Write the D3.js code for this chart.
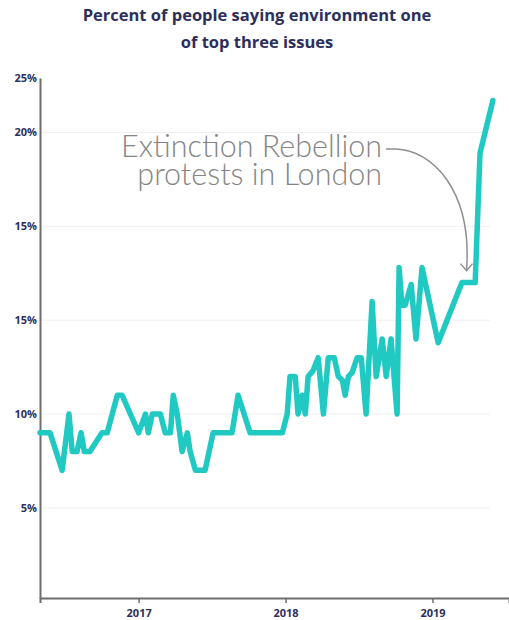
<!DOCTYPE html>
<html>
<head>
<meta charset="utf-8">
<script src="https://cdn.jsdelivr.net/npm/d3@7"></script>
<style>
	body { margin: 0; background: #fff; }
	svg { display: block; }
</style>
</head>
<body>
<div id="chart"></div>
<script>
const dates = [
	'2016-05-01', '2016-05-26', '2016-06-25', '2016-07-12', '2016-07-20', '2016-08-01',
	'2016-08-11', '2016-08-19', '2016-09-02', '2016-10-02', '2016-10-15', '2016-11-09',
	'2016-11-21', '2017-01-01', '2017-01-18', '2017-01-25', '2017-02-04', '2017-02-24',
	'2017-03-08', '2017-03-21', '2017-03-28', '2017-04-07', '2017-04-19', '2017-05-02',
	'2017-05-09', '2017-05-22', '2017-06-15', '2017-07-05', '2017-08-21', '2017-09-05',
	'2017-10-05', '2017-12-24', '2018-01-05', '2018-01-12', '2018-01-25', '2018-02-01',
	'2018-02-11', '2018-02-19', '2018-02-26', '2018-03-10', '2018-03-23', '2018-04-05',
	'2018-04-17', '2018-05-02', '2018-05-12', '2018-05-22', '2018-05-29', '2018-06-06',
	'2018-06-15', '2018-06-28', '2018-07-08', '2018-07-20', '2018-08-04', '2018-08-14',
	'2018-08-29', '2018-09-08', '2018-09-20', '2018-10-05', '2018-10-10', '2018-10-17',
	'2018-10-25', '2018-11-09', '2018-11-21', '2018-12-06', '2019-01-15', '2019-03-15',
	'2019-04-17', '2019-04-29', '2019-05-31'
];

const values = [
	9, 9, 7, 10, 8, 8,
	9, 8, 8, 9, 9, 11,
	11, 9, 10, 9, 10, 10,
	9, 9, 11, 10, 8, 9,
	8, 7, 7, 9, 9, 11,
	9, 9, 10, 12, 12, 10,
	11, 10, 12, 12.3, 13, 10,
	13, 13, 12, 11.8, 11, 12,
	12.2, 13, 13, 10, 16, 12,
	14, 12, 14, 10, 17.8, 15.8,
	15.8, 16.9, 14, 17.8, 13.8, 17,
	17, 23.9, 26.7
];

// tick labels as printed on the original (note the repeated 15%)
const yTickValues = [5, 10, 15, 20, 25, 27.9];
const yTickLabels = ['5%', '10%', '15%', '15%', '20%', '25%'];
const xTickYears = [2017, 2018, 2019];

const titleLines = ['Percent of people saying environment one', 'of top three issues'];
const noteLines = ['Extinction Rebellion', 'protests in London'];

const w = 509;
const h = 620;
const navy = '#2c2f5c';

const parse = d3.timeParse('%Y-%m-%d');
const data = dates.map((d, i) => ({ date: parse(d), value: values[i] }));

const svg = d3.select('#chart').append('svg')
	.attr('width', w)
	.attr('height', h);

const x = d3.scaleTime()
	.domain([parse('2016-05-01'), parse('2019-07-10')])
	.range([40, 509]);

const y = d3.scaleLinear()
	.domain([0.2, 27.9])
	.range([598, 78]);

// title
svg.append('text')
	.attr('x', 257)
	.attr('y', 21)
	.attr('text-anchor', 'middle')
	.style('font-family', 'Open Sans, sans-serif')
	.style('font-weight', 700)
	.style('font-size', '16.5px')
	.style('fill', navy)
	.selectAll('tspan')
	.data(titleLines)
	.join('tspan')
	.attr('x', 257)
	.attr('dy', (d, i) => i ? 27 : 0)
	.text(d => d);

// faint gridlines
svg.append('g')
	.selectAll('line')
	.data(yTickValues.slice(0, -1))
	.join('line')
	.attr('x1', 40)
	.attr('x2', 490)
	.attr('y1', d => y(d))
	.attr('y2', d => y(d))
	.style('stroke', '#efefef')
	.style('stroke-width', 1);

// axes
const yAxis = svg.append('g')
	.attr('transform', 'translate(40,0)')
	.call(d3.axisLeft(y)
		.tickValues(yTickValues)
		.tickFormat((d, i) => yTickLabels[i])
		.tickSize(0)
		.tickPadding(3));

const xAxis = svg.append('g')
	.attr('transform', 'translate(0,598)')
	.call(d3.axisBottom(x)
		.tickValues(xTickYears.map(yr => new Date(yr, 0, 1)))
		.tickFormat(d3.timeFormat('%Y'))
		.tickSizeOuter(0)
		.tickSize(5)
		.tickPadding(6));

[yAxis, xAxis].forEach(g => {
	g.select('.domain').style('stroke', '#6e6e6e').style('stroke-width', 2);
	g.selectAll('.tick line').style('stroke', '#6e6e6e').style('stroke-width', 1.5);
	g.selectAll('.tick text')
		.style('font-family', 'Open Sans, sans-serif')
		.style('font-weight', 700)
		.style('font-size', '11px')
		.style('fill', navy);
});

// series line
const line = d3.line()
	.x(d => x(d.date))
	.y(d => y(d.value));

svg.append('path')
	.datum(data)
	.attr('d', line)
	.style('fill', 'none')
	.style('stroke', '#20c9c1')
	.style('stroke-width', 5.5)
	.style('stroke-linejoin', 'round')
	.style('stroke-linecap', 'round');

// annotation
const note = svg.append('text')
	.attr('text-anchor', 'end')
	.style('font-family', 'Lato, sans-serif')
	.style('font-weight', 300)
	.style('font-size', '30.5px')
	.style('fill', '#858585');

note.selectAll('tspan')
	.data(noteLines)
	.join('tspan')
	.attr('x', 382)
	.attr('y', (d, i) => 157 + i * 28)
	.text(d => d);

// arrow pointing at the flat 17% stretch before the jump
const target = data[65];
const tx = (x(data[65].date) + x(data[66].date)) / 2 - 2;
const ty = y(target.value) - 12;

svg.append('path')
	.attr('d', `M386,149 L396,149 C432,150 ${tx + 6},190 ${tx},${ty}`)
	.style('fill', 'none')
	.style('stroke', '#8f8f8f')
	.style('stroke-width', 1.5);

svg.append('path')
	.attr('d', `M${tx - 6},${ty - 7} L${tx},${ty} L${tx + 6},${ty - 7}`)
	.style('fill', 'none')
	.style('stroke', '#8f8f8f')
	.style('stroke-width', 1.5);
</script>
</body>
</html>
